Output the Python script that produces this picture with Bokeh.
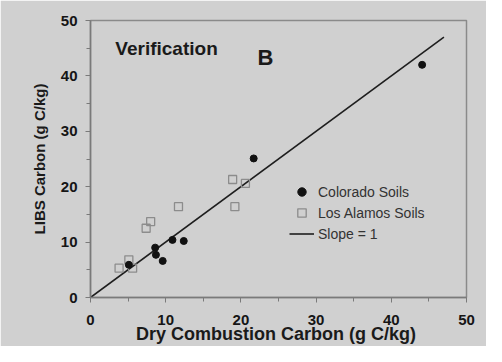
from bokeh.plotting import figure
from bokeh.models import Range1d, Label, Legend, LegendItem, FixedTicker
from bokeh.embed import file_html
from bokeh.resources import INLINE

# Data
colorado_x = [44.1, 21.7, 10.9, 12.4, 8.6, 8.7, 9.6, 5.1]
colorado_y = [42.0, 25.1, 10.4, 10.2, 9.0, 7.7, 6.6, 5.9]
alamos_x = [18.9, 20.6, 11.7, 19.2, 8.0, 7.4, 5.1, 3.8, 5.6]
alamos_y = [21.3, 20.6, 16.4, 16.4, 13.7, 12.5, 6.8, 5.3, 5.3]
slope_x = [0, 47]
slope_y = [0, 47]
x_ticks = [0, 10, 20, 30, 40, 50]
y_ticks = [0, 10, 20, 30, 40, 50]
minor_ticks = [5, 15, 25, 35, 45]

BG = "#d0d0d0"
FONT = "Liberation Sans"

p = figure(width=486, height=346, output_backend="svg", toolbar_location=None,
           x_range=Range1d(0, 50), y_range=Range1d(0, 50),
           background_fill_color=BG, border_fill_color=BG,
           min_border_left=90, min_border_right=20, min_border_top=20, min_border_bottom=48)
p.outline_line_color = "#8a8a8a"
p.outline_line_width = 1.5
p.xgrid.visible = False
p.ygrid.visible = False

for ax in (p.xaxis[0], p.yaxis[0]):
    ax.axis_line_color = "#7a7a7a"
    ax.axis_line_width = 1.5
    ax.major_tick_line_color = "#7a7a7a"
    ax.minor_tick_line_color = "#7a7a7a"
    ax.major_tick_in = 0
    ax.major_tick_out = 5
    ax.minor_tick_in = 0
    ax.minor_tick_out = 4
    ax.major_label_text_font = FONT
    ax.major_label_text_font_style = "bold"
    ax.major_label_text_font_size = "15px"
    ax.major_label_text_color = "#151515"
    ax.axis_label_text_font = FONT
    ax.axis_label_text_font_style = "bold"
    ax.axis_label_text_color = "#1a1a1a"

p.xaxis[0].ticker = FixedTicker(ticks=x_ticks, minor_ticks=minor_ticks)
p.yaxis[0].ticker = FixedTicker(ticks=y_ticks, minor_ticks=minor_ticks)

p.xaxis.axis_label = "Dry Combustion Carbon  (g C/kg)"
p.xaxis.axis_label_text_font_size = "18px"
p.xaxis.major_label_standoff = 12
p.xaxis.axis_label_standoff = -4
p.yaxis.axis_label = "LIBS Carbon (g C/kg)"
p.yaxis.axis_label_text_font_size = "15px"
p.yaxis.major_label_standoff = 8
p.yaxis.axis_label_standoff = 10

line_r = p.line(slope_x, slope_y, line_color="#1e1e1e", line_width=1.6)
sq_r = p.scatter(alamos_x, alamos_y, marker="square", size=8, fill_color=None,
                 line_color="#8c8c8c", line_width=1.3)
dot_r = p.scatter(colorado_x, colorado_y, marker="circle", size=7, fill_color="#111111",
                  line_color="#111111")

legend = Legend(items=[
    LegendItem(label="Colorado Soils", renderers=[dot_r]),
    LegendItem(label="Los Alamos Soils", renderers=[sq_r]),
    LegendItem(label="Slope = 1", renderers=[line_r]),
], location=(199, 53))
legend.background_fill_alpha = 0
legend.border_line_color = None
legend.padding = 0
legend.margin = 0
legend.spacing = 0
legend.label_height = 21
legend.glyph_height = 21
legend.glyph_width = 25
legend.label_standoff = 4
legend.label_text_font = FONT
legend.label_text_font_size = "14px"
legend.label_text_color = "#333333"
p.add_layout(legend)

p.add_layout(Label(x=3.3, y=45.0, text="Verification", text_font=FONT, text_font_style="bold",
                   text_font_size="19px", text_baseline="middle", text_align="left",
                   text_color="#1a1a1a"))
p.add_layout(Label(x=22.2, y=43.3, text="B", text_font=FONT, text_font_style="bold",
                   text_font_size="22px", text_baseline="middle", text_align="left",
                   text_color="#1a1a1a"))

open("out.html", "w").write(file_html(p, INLINE))
